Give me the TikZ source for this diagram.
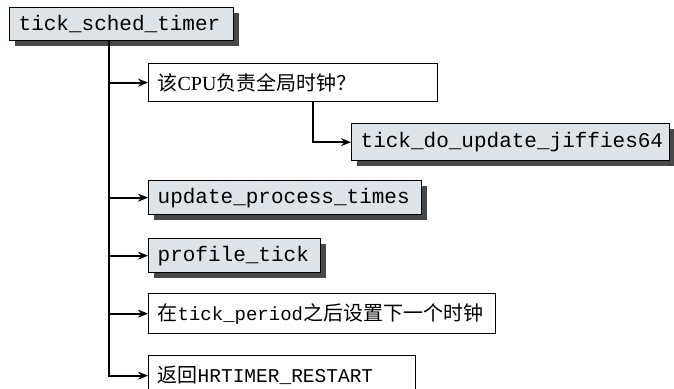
\documentclass[tikz,border=0pt]{standalone}
\usepackage{fontspec}
\setmainfont{Liberation Serif}
\setmonofont{Liberation Mono}
\newfontfamily\cjk{Noto Sans CJK SC}
\usetikzlibrary{arrows.meta,shadows}
\definecolor{boxgray}{HTML}{DDE3E7}
\definecolor{shadowgray}{HTML}{484848}
\tikzset{
  fnbox/.style={draw, line width=1.3pt, fill=boxgray, anchor=north west,
    inner xsep=9pt, align=left, font=\fontsize{21}{24}\selectfont\ttfamily,
    drop shadow={shadow xshift=5pt, shadow yshift=-5pt, fill=shadowgray, opacity=1}},
  txtbox/.style={draw, line width=1.3pt, fill=white, anchor=north west,
    inner xsep=9pt, align=left, font=\fontsize{20}{24}\selectfont},
  conn/.style={line width=2pt},
  arr/.style={conn, -{Stealth[length=10pt,width=8pt]}}
}
\begin{document}
\begin{tikzpicture}[x=1pt,y=-1pt]
\useasboundingbox (0,0) rectangle (674,388);

% timer handler
\node[fnbox, text width=206pt, minimum height=33pt] (timer) at (9,7) {tick\_sched\_timer};

% branches
\node[txtbox, text width=271pt, minimum height=38pt] (global) at (148,63)
  {{\cjk 该}CPU{\cjk 负责全局时钟？}};
\node[fnbox, text width=300pt, minimum height=37pt] (jiffies) at (351,123) {tick\_do\_update\_jiffies64};
\node[fnbox, text width=255pt, minimum height=34pt] (process) at (148,180) {update\_process\_times};
\node[fnbox, text width=154pt, minimum height=34pt] (profile) at (148,238) {profile\_tick};
\node[txtbox, text width=329pt, minimum height=40pt] (nextev) at (148,293)
  {{\cjk 在}\texttt{\fontsize{19}{24}\selectfont tick\_period}{\cjk 之后设置下一个时钟}};
\node[txtbox, text width=249pt, minimum height=40pt] (restart) at (148,355)
  {{\cjk 返回}\texttt{\fontsize{19.5}{24}\selectfont HRTIMER\_RESTART}};

% call tree
\coordinate (trunk) at (109,40);
\coordinate (qdrop) at (313,101);
\draw[arr] (trunk) |- (restart.west);
\foreach \n in {global,process,profile,nextev}
  \draw[arr] (trunk |- \n.west) -- (\n.west);
\draw[arr] (qdrop) |- (jiffies.west);
\end{tikzpicture}
\end{document}
